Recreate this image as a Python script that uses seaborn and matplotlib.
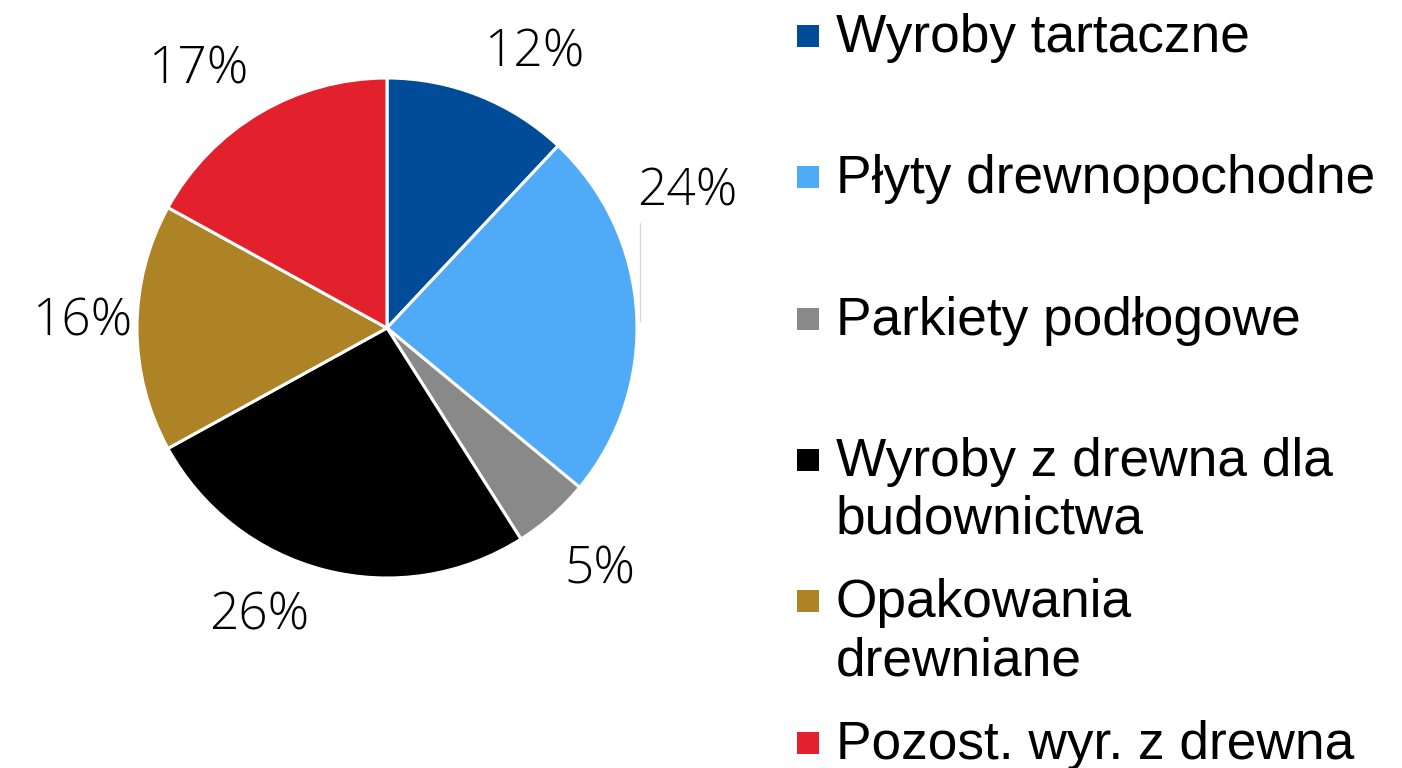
import matplotlib
matplotlib.use("Agg")
import matplotlib.pyplot as plt
from matplotlib.patches import Rectangle
import numpy as np
import seaborn as sns

sns.set_theme(style="white")

categories = ["Wyroby tartaczne", "Płyty drewnopochodne", "Parkiety podłogowe",
              "Wyroby z drewna dla\nbudownictwa", "Opakowania\ndrewniane",
              "Pozost. wyr. z drewna"]
shares = [12, 24, 5, 26, 16, 17]
colors = ["#004c99", "#4faaf8", "#898989", "#000000", "#ad8326", "#e3212d"]

# where the percent labels sit (angle in degrees, distance in radii)
label_angle = [61.8, 24.3, -48.6, -114.0, 178.9, 126.2]
label_dist = [1.25, 1.32, 1.29, 1.26, 1.22, 1.28]

W, H = 1402, 768
fig = plt.figure(figsize=(W / 100, H / 100), dpi=100)

# pie: center (387, 328) px, radius 250 px
cx, cy, r = 387, 328, 250
ax = fig.add_axes([(cx - r) / W, (H - cy - r) / H, 2 * r / W, 2 * r / H])
wedges, texts, autotexts = ax.pie(
    shares, colors=colors, startangle=90, counterclock=False,
    autopct="%1.0f%%", pctdistance=1.27, radius=1,
    wedgeprops=dict(edgecolor="white", linewidth=2.2),
    textprops=dict(fontsize=37, family="Open Sans", fontweight="light",
                   color="black"),
)
for t, a, d in zip(autotexts, label_angle, label_dist):
    t.set_position((d * np.cos(np.radians(a)), d * np.sin(np.radians(a))))
    t.set_clip_on(False)
ax.set_xlim(-1, 1)
ax.set_ylim(-1, 1)
ax.set_aspect("equal")
ax.axis("off")

# thin leader line near the 24% label
ax.plot([1.01, 1.01], [0.03, 0.42], color="#d9d9d9", lw=1, clip_on=False)

# legend drawn by hand, first lines evenly spaced
base0, step, line_gap = 52, 141.3, 58
for i, (lab, col) in enumerate(zip(categories, colors)):
    b = base0 + i * step
    fig.patches.append(Rectangle((797 / W, (H - b + 5) / H), 22 / W, 22 / H,
                                 transform=fig.transFigure, facecolor=col,
                                 edgecolor="none"))
    for j, line in enumerate(lab.split("\n")):
        fig.text(836 / W, (H - b - j * line_gap) / H, line, fontsize=38.3,
                 family="Liberation Sans", color="black",
                 va="baseline", ha="left")

fig.savefig("out.png", dpi=100, facecolor="white")
